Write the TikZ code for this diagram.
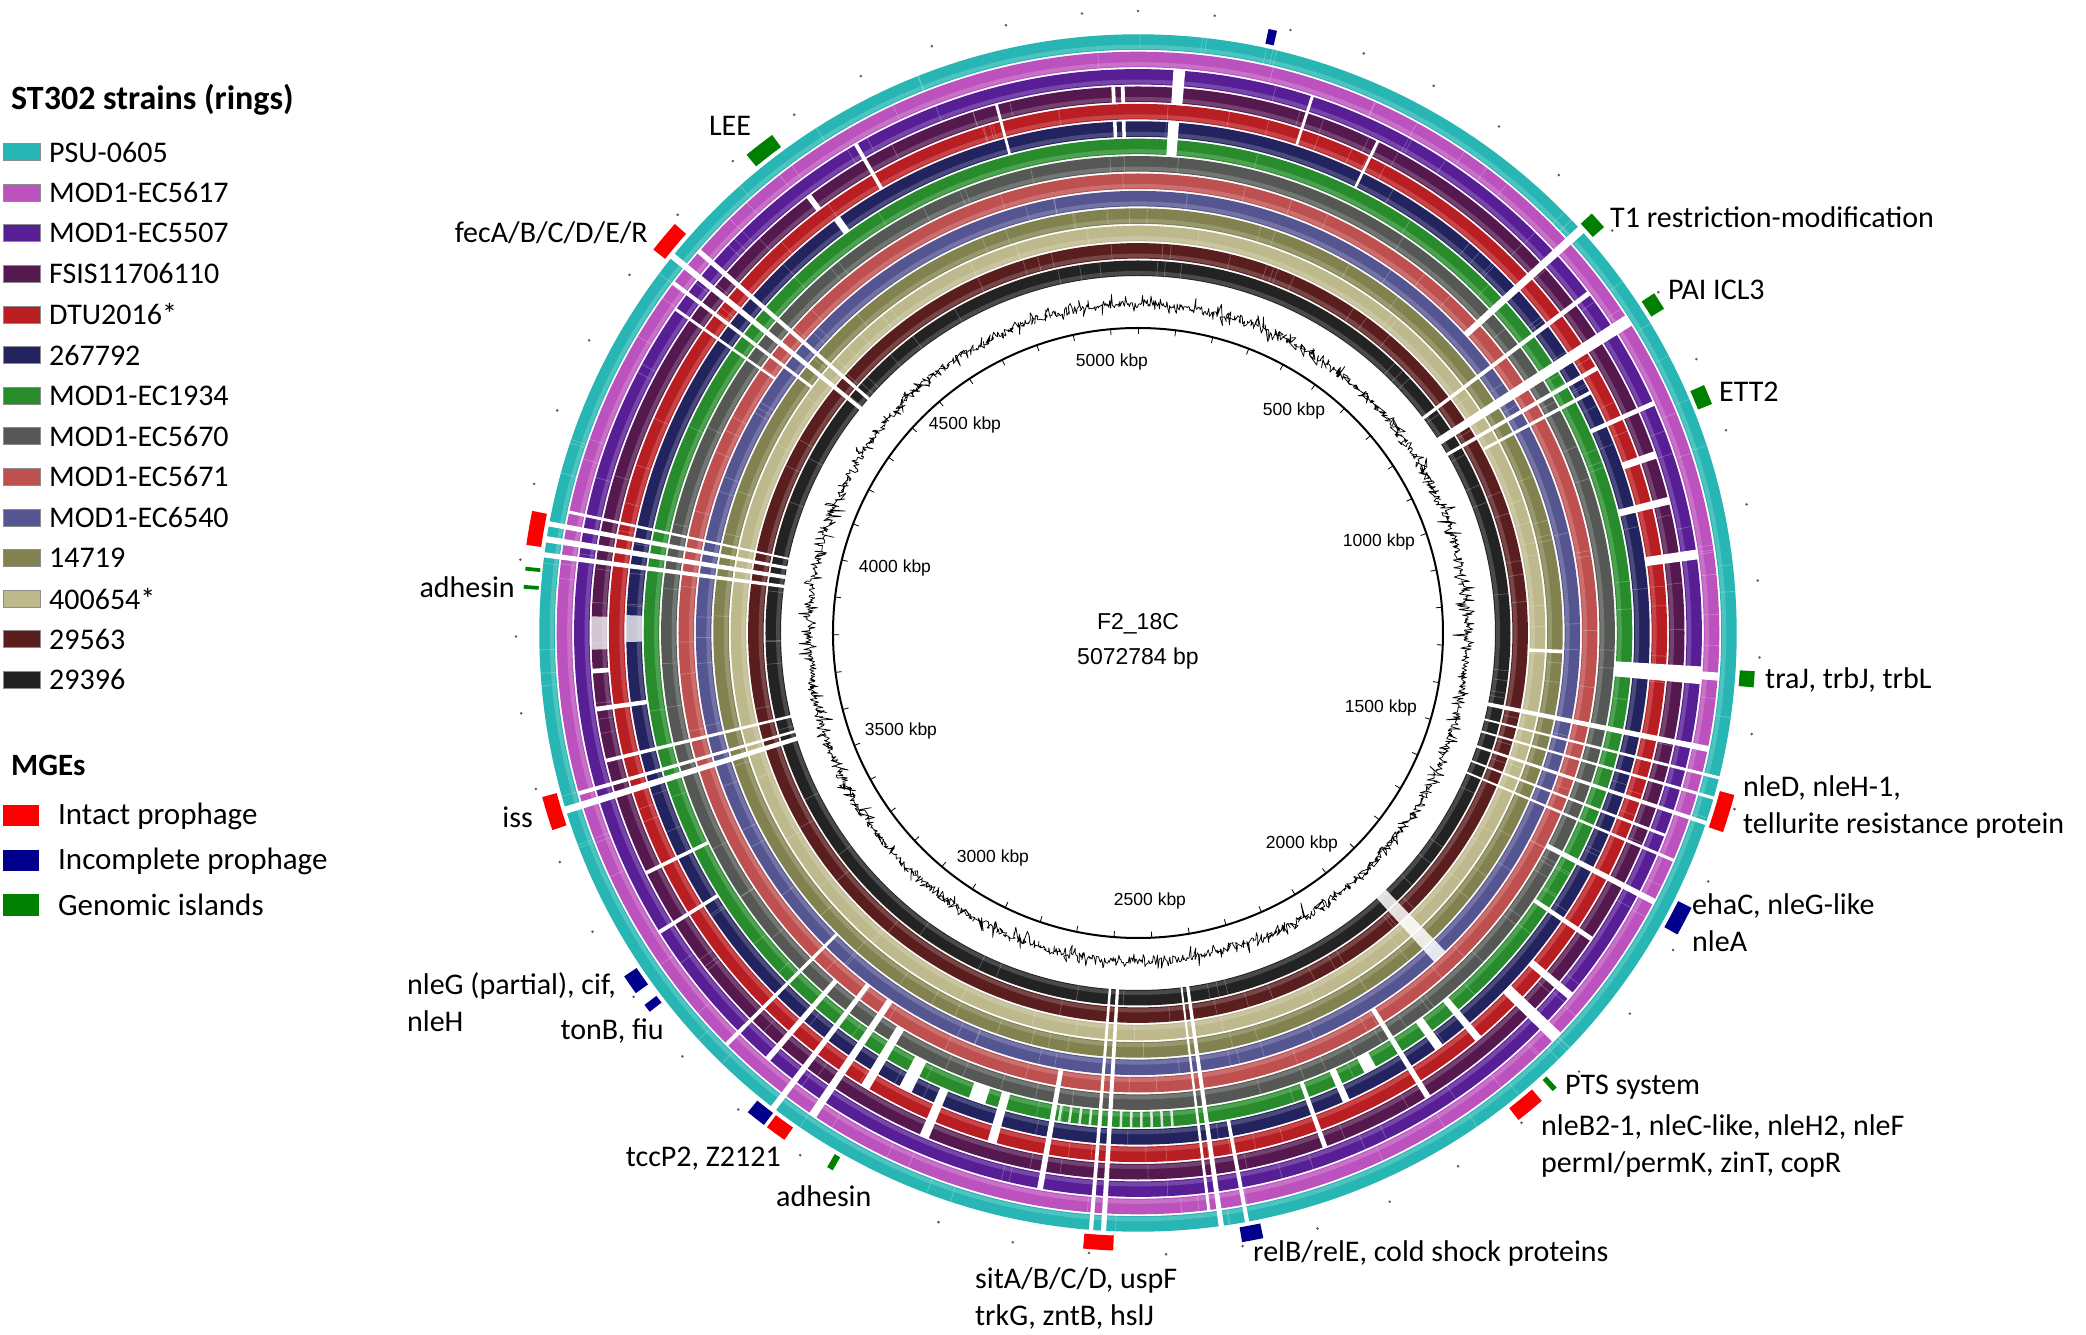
\documentclass[tikz,border=0pt]{standalone}
\usepackage{fontspec}
\setmainfont{Carlito}
\newfontfamily\arialf{Liberation Sans}
\definecolor{cPSU}{RGB}{40,182,180}
\definecolor{cFF}{RGB}{188,82,190}
\definecolor{cFS}{RGB}{88,30,150}
\definecolor{cFSIS}{RGB}{85,25,80}
\definecolor{cDTU}{RGB}{185,30,35}
\definecolor{cNV}{RGB}{35,35,95}
\definecolor{cGR}{RGB}{40,140,45}
\definecolor{cGY}{RGB}{85,88,85}
\definecolor{cSA}{RGB}{190,80,80}
\definecolor{cSL}{RGB}{85,85,145}
\definecolor{cOL}{RGB}{130,130,80}
\definecolor{cTA}{RGB}{190,185,140}
\definecolor{cDR}{RGB}{90,30,30}
\definecolor{cBK}{RGB}{35,35,35}
\definecolor{mRed}{RGB}{250,0,0}
\definecolor{mNavy}{RGB}{0,0,140}
\definecolor{mGreen}{RGB}{0,128,0}
% white gap across rings: [opacity]{theta cw from top}{width deg}{from ring}{to ring}
\newcommand\gapw[5][1]{%
 \pgfmathsetmacro\gpa{90-#2+#3/2}%
 \pgfmathsetmacro\gpb{90-#2-#3/2}%
 \pgfmathsetmacro\gpi{355.5+17.4*#4}%
 \pgfmathsetmacro\gpo{374+17.4*#5}%
 \fill[white,opacity=#1] (\gpa:\gpi) arc[start angle=\gpa,end angle=\gpb,radius=\gpi] -- (\gpb:\gpo) arc[start angle=\gpb,end angle=\gpa,radius=\gpo] -- cycle;}
% MGE marker: [inner radius]{colour}{theta}{width deg}
\newcommand\mgebox[4][603]{%
 \pgfmathsetmacro\gpa{90-#3+#4/2}%
 \pgfmathsetmacro\gpb{90-#3-#4/2}%
 \pgfmathsetmacro\gpo{#1+15}%
 \fill[#2] (\gpa:#1) arc[start angle=\gpa,end angle=\gpb,radius=#1] -- (\gpb:\gpo) arc[start angle=\gpb,end angle=\gpa,radius=\gpo] -- cycle;}
\pgfmathdeclarefunction{gcr}{0}{\pgfmathparse{329+3*(2*rnd-1)+17*(2*rnd-1)*(2*rnd-1)*(2*rnd-1)}}
\begin{document}
\begin{tikzpicture}[x=1pt,y=1pt,
  lbl/.style={font=\fontsize{30}{37}\selectfont, inner sep=0pt, align=left},
  leg/.style={font=\fontsize{30}{34}\selectfont, anchor=west, inner sep=0pt},
  mgeleg/.style={font=\fontsize{31}{37}\selectfont, anchor=west, inner sep=0pt},
  legtitle/.style={font=\bfseries\fontsize{34}{40}\selectfont, anchor=west, inner sep=0pt},
  mgetitle/.style={font=\bfseries\fontsize{31}{37}\selectfont, anchor=west, inner sep=0pt},
  kbp/.style={font=\arialf\fontsize{17.5}{21}\selectfont, inner sep=0pt},
  ctr/.style={font=\arialf\fontsize{23}{28}\selectfont, inner sep=0pt},
  swatch/.style={draw=black!45, line width=0.6pt, minimum width=37pt, minimum height=17pt, inner sep=0pt},
  mswatch/.style={minimum width=36pt, minimum height=21pt, inner sep=0pt}]
\useasboundingbox (-1138,-702) rectangle (948,633);
\fill[white] (-1138,-702) rectangle (948,633);

% ---------- rings ----------
\foreach \c [count=\i from 0] in {cBK,cDR,cTA,cOL,cSL,cSA,cGY,cGR,cNV,cDTU,cFSIS,cFS,cFF,cPSU}{
  \pgfmathsetmacro\rr{364.75+17.4*\i}
  \pgfmathsetmacro\rh{360+17.4*\i}
  \draw[\c, line width=15.5pt] (0,0) circle[radius=\rr];
  \draw[white, opacity=0.18, line width=4pt] (0,0) circle[radius=\rh];
}
% faint texture
\pgfmathsetseed{5}
\foreach \k in {1,...,600}{
  \pgfmathsetmacro\ta{360*rnd}
  \pgfmathsetmacro\ri{357+17.4*int(14*rnd)}
  \pgfmathsetmacro\ro{\ri+15.5}
  \draw[white, opacity=0.25, line width=0.7pt] (\ta:\ri) -- (\ta:\ro);
}
% ---------- white gaps ----------
\gapw{4.2}{1.2}{10}{11}\gapw{4.0}{1.2}{7}{8}
\gapw{-2.6}{0.4}{10}{10}\gapw{-1.6}{0.4}{10}{10}\gapw{-2.6}{0.4}{8}{8}\gapw{-1.6}{0.4}{8}{8}
\gapw{18}{0.3}{9}{11}\gapw{26}{0.3}{8}{10}
\gapw{47.7}{0.8}{5}{13}\gapw{53}{0.5}{0}{11}\gapw{57.5}{1.2}{0}{12}\gapw{60}{0.5}{0}{9}\gapw{62}{0.4}{2}{8}
\gapw{66}{0.5}{8}{11}\gapw{71}{0.8}{9}{10}\gapw{76}{0.8}{8}{10}\gapw{82}{1}{9}{11}
\gapw{94.3}{1.8}{7}{11}\gapw{94.3}{0.8}{12}{12}\gapw{92.5}{0.5}{2}{3}
\gapw{101.5}{0.6}{0}{12}\gapw{104}{0.3}{0}{13}\gapw{106}{0.3}{0}{13}\gapw{108.5}{0.4}{0}{13}\gapw{111}{0.3}{0}{11}\gapw{113}{0.3}{0}{12}
\gapw{117.5}{0.6}{6}{12}\gapw{124}{0.5}{7}{10}
\gapw{130}{0.8}{9}{11}\gapw{134}{1.2}{9}{12}\gapw[0.85]{137}{2.0}{0}{4}\gapw{140}{0.8}{7}{9}\gapw{144}{1.0}{7}{8}
\gapw{148}{0.6}{5}{10}\gapw{152}{1.5}{7}{7}\gapw{156}{0.8}{7}{8}\gapw{160}{0.5}{7}{10}
\gapw{169.5}{0.4}{8}{13}\gapw{172}{0.5}{0}{13}\gapw{173}{0.3}{0}{12}
\gapw{183.3}{0.5}{0}{13}\gapw{184.5}{0.4}{0}{13}\gapw{190}{0.6}{5}{11}
\foreach \t in {176,177.2,...,190}{\gapw[0.8]{\t}{0.3}{7}{7}}
\gapw{196}{1.0}{7}{9}\gapw{199}{2}{7}{7}\gapw{203}{1}{8}{10}\gapw{207}{1.5}{7}{8}
\gapw{211}{1}{6}{9}\gapw{214}{0.8}{5}{12}\gapw{217.5}{0.6}{5}{13}\gapw{221}{0.6}{6}{11}\gapw{225}{0.4}{4}{12}
\gapw{238}{0.4}{8}{11}\gapw{244}{0.4}{7}{10}
\gapw{252.8}{0.7}{0}{13}\gapw{254}{0.4}{0}{12}\gapw{256.5}{0.4}{0}{10}\gapw{262}{0.5}{8}{10}\gapw{266}{0.5}{10}{10}
\gapw[0.75]{270}{3.5}{10}{10}\gapw[0.75]{270.5}{3}{8}{8}
\gapw{277.5}{0.5}{0}{13}\gapw{279}{0.6}{0}{13}\gapw{280.5}{0.5}{0}{13}\gapw{282}{0.3}{0}{12}
\gapw{305}{0.3}{5}{11}\gapw{307}{0.4}{3}{12}\gapw{309}{0.6}{0}{13}\gapw{311}{0.5}{0}{12}
\gapw{323}{0.6}{10}{10}\gapw{324}{0.8}{8}{8}\gapw{330}{0.4}{9}{11}\gapw{345}{0.3}{8}{10}

% ---------- GC plot, backbone ----------
\pgfmathsetseed{11}
\draw[black, line width=0.75pt, line join=round] plot[domain=0:360, samples=2200, variable=\t] ({\t}:{gcr});
\draw[black, line width=2pt] (0,0) circle[radius=305];
\foreach \k in {0,...,50}{
  \pgfmathsetmacro\ta{90-\k*7.0967}
  \draw[black, line width=0.8pt] (\ta:305) -- (\ta:299);
  \fill[black!65] (\ta:622) circle[radius=1.4];
}

% ---------- MGE markers ----------
\mgebox{mNavy}{12.6}{0.8}
\mgebox{mGreen}{322.2}{3.0}
\mgebox{mRed}{309.9}{3.1}
\mgebox{mGreen}{48.1}{1.7}
\mgebox{mGreen}{57.5}{1.7}
\mgebox{mGreen}{67.3}{1.9}
\mgebox{mGreen}{94.3}{1.5}
\mgebox{mRed}{107}{3.6}
\mgebox{mNavy}{117.8}{2.8}
\mgebox{mGreen}{137.6}{0.5}
\mgebox{mRed}{140.6}{2.8}
\mgebox{mNavy}{169.3}{2.0}
\mgebox{mRed}{183.7}{2.8}
\mgebox{mGreen}{209.9}{0.6}
\mgebox{mNavy}{218.2}{1.9}
\mgebox{mRed}{215.9}{2.0}
\mgebox{mNavy}{232.6}{0.8}
\mgebox{mNavy}{235.3}{1.9}
\mgebox{mRed}{253}{3.2}
\mgebox[601]{mGreen}{274.3}{0.35}
\mgebox[601]{mGreen}{276}{0.35}
\mgebox{mRed}{279.8}{3.2}

% ---------- centre text and scale ----------
\node[ctr] (name) at (0,9) {F2\_18C};
\node[ctr] (size) at (0,-26) {5072784 bp};
\node[kbp] (k5000) at (-26,271) {5000 kbp};
\node[kbp] (k500) at (156,222) {500 kbp};
\node[kbp] (k1000) at (241,91) {1000 kbp};
\node[kbp] (k1500) at (243,-75) {1500 kbp};
\node[kbp] (k2000) at (164,-211) {2000 kbp};
\node[kbp] (k2500) at (12,-268) {2500 kbp};
\node[kbp] (k3000) at (-145,-225) {3000 kbp};
\node[kbp] (k3500) at (-237,-98) {3500 kbp};
\node[kbp] (k4000) at (-243,65) {4000 kbp};
\node[kbp] (k4500) at (-173,208) {4500 kbp};

% ---------- MGE labels ----------
\node[lbl] (lLEE) at (-408,507) {LEE};
\node[lbl, anchor=east] (lfec) at (-490,400) {fecA/B/C/D/E/R};
\node[lbl, anchor=west] (lT1) at (472,416) {T1 restriction-modification};
\node[lbl, anchor=west] (lPAI) at (530,343) {PAI ICL3};
\node[lbl, anchor=west] (lETT) at (581,241) {ETT2};
\node[lbl, anchor=west] (ltra) at (627,-47) {traJ, trbJ, trbL};
\node[lbl, anchor=west] (lnleD) at (605,-174) {nleD, nleH-1,\\tellurite resistance protein};
\node[lbl, anchor=west] (lehaC) at (554,-290) {ehaC, nleG-like\\nleA};
\node[lbl, anchor=west] (lPTS) at (427,-454) {PTS system};
\node[lbl, anchor=west] (lnleB) at (403,-513) {nleB2-1, nleC-like, nleH2, nleF\\permI/permK, zinT, copR};
\node[lbl, anchor=west] (lrelB) at (115,-620) {relB/relE, cold shock proteins};
\node[lbl, anchor=west] (lsitA) at (-163,-665) {sitA/B/C/D, uspF\\trkG, zntB, hslJ};
\node[lbl, anchor=west] (ladh2) at (-362,-563) {adhesin};
\node[lbl, anchor=east] (ltcc) at (-357,-526) {tccP2, Z2121};
\node[lbl, anchor=east] (lton) at (-474,-398) {tonB, fiu};
\node[lbl, anchor=west] (lnleG) at (-731,-369) {nleG (partial), cif,\\nleH};
\node[lbl, anchor=east] (liss) at (-605,-184) {iss};
\node[lbl, anchor=east] (ladh1) at (-623,46) {adhesin};

% ---------- legend ----------
\node[legtitle] (ttl) at (-1127,533) {ST302 strains (rings)};
\foreach \c/\n [count=\k from 0] in {cPSU/PSU-0605,cFF/MOD1-EC5617,cFS/MOD1-EC5507,cFSIS/FSIS11706110,cDTU/DTU2016*,cNV/267792,cGR/MOD1-EC1934,cGY/MOD1-EC5670,cSA/MOD1-EC5671,cSL/MOD1-EC6540,cOL/14719,cTA/400654*,cDR/29563,cBK/29396}{
  \pgfmathsetmacro\yy{481-40.6*\k}
  \node[swatch, fill=\c] (sw\k) at (-1116.5,\yy) {};
  \node[leg] (lt\k) at (-1089,\yy) {\n};
}
\node[mgetitle] (mttl) at (-1127,-132) {MGEs};
\node[mswatch, fill=mRed] (ms1) at (-1117,-183) {};
\node[mgeleg] (mt1) at (-1080,-183) {Intact prophage};
\node[mswatch, fill=mNavy] (ms2) at (-1117,-228) {};
\node[mgeleg] (mt2) at (-1080,-228) {Incomplete prophage};
\node[mswatch, fill=mGreen] (ms3) at (-1117,-272) {};
\node[mgeleg] (mt3) at (-1080,-272) {Genomic islands};
\end{tikzpicture}
\end{document}
